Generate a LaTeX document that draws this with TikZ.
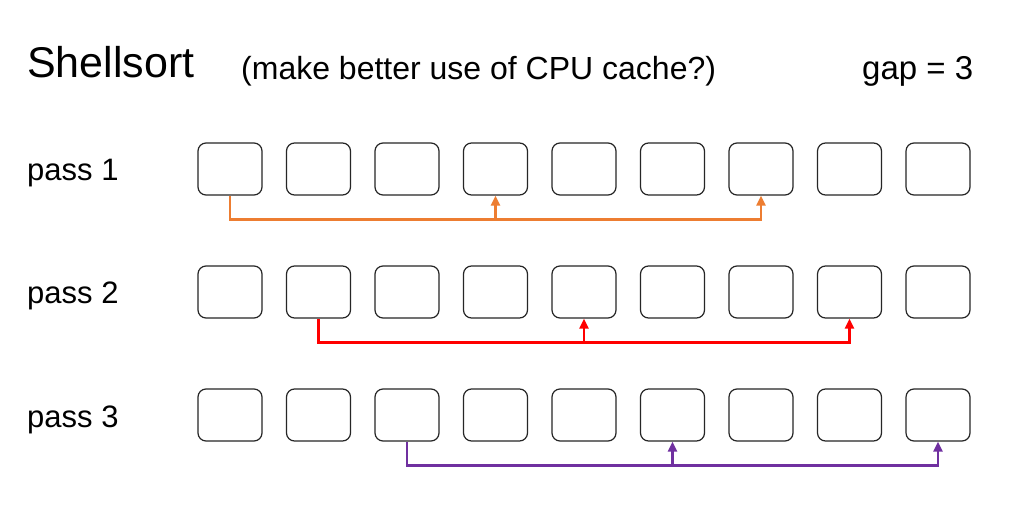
\documentclass[tikz,border=0pt]{standalone}
\usepackage{fontspec}
\setmainfont{Liberation Sans}
\usetikzlibrary{arrows.meta,calc}
\definecolor{corange}{HTML}{ED7D31}
\definecolor{cred}{HTML}{FF0000}
\definecolor{cpurple}{HTML}{7030A0}
\begin{document}
\begin{tikzpicture}[x=1pt,y=-1pt,
  cell/.style={draw=black!85,line width=1.2pt,rounded corners=8pt,minimum width=64pt,minimum height=52pt,inner sep=0pt},
  link/.style={line width=2.4pt,-{Triangle[length=10pt,width=9pt]}},
  label/.style={anchor=base west,inner sep=0pt}]
\useasboundingbox[fill=white] (0,0) rectangle (1017,518);
\node[label,font=\fontsize{43}{50}\selectfont] (title) at (27,78) {Shellsort};
\node[label,font=\fontsize{32}{38}\selectfont] (sub) at (241,80) {(make better use of CPU cache?)};
\node[label,font=\fontsize{33}{38}\selectfont] (gap) at (862,80) {gap = 3};
\foreach \r/\y in {1/169,2/292,3/415}{
  \node[label,font=\fontsize{31}{36}\selectfont] (p\r) at (27,\y+12) {pass \r};
  \foreach \i in {0,...,8}{
    \node[cell] (c\r-\i) at (230+88.5*\i,\y) {};
  }
}
% pass 1
\coordinate (h1) at ($(c1-0.south)+(0,24)$);
\draw[link,corange] (c1-0.south) -- (c1-0.south |- h1) -| (c1-6.south);
\draw[link,corange] (c1-3.south |- h1) -- (c1-3.south);
% pass 2
\coordinate (h2) at ($(c2-1.south)+(0,24)$);
\draw[link,cred] (c2-1.south) -- (c2-1.south |- h2) -| (c2-7.south);
\draw[link,cred] (c2-4.south |- h2) -- (c2-4.south);
% pass 3
\coordinate (h3) at ($(c3-2.south)+(0,24)$);
\draw[link,cpurple] (c3-2.south) -- (c3-2.south |- h3) -| (c3-8.south);
\draw[link,cpurple] (c3-5.south |- h3) -- (c3-5.south);
\end{tikzpicture}
\end{document}
